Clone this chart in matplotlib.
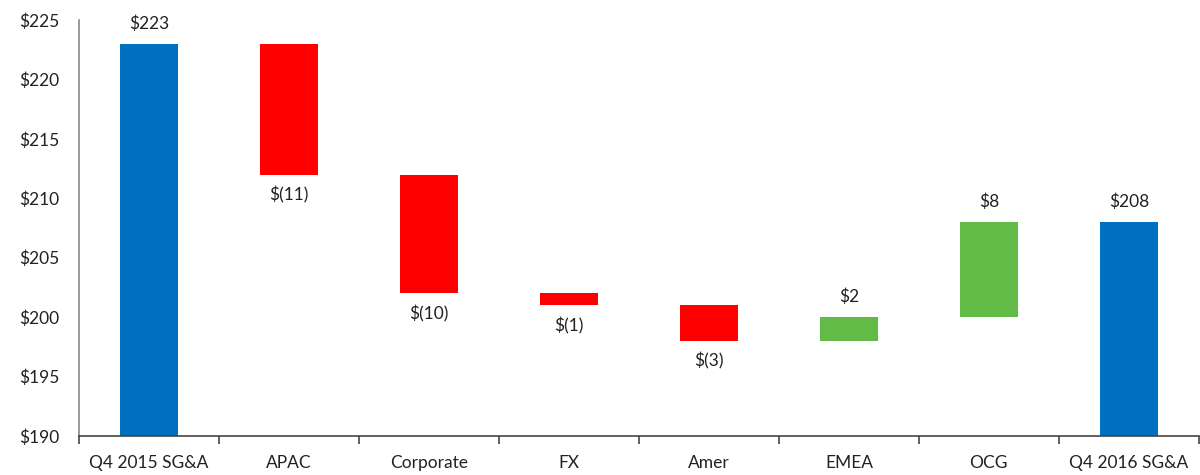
import matplotlib.pyplot as plt
import numpy as np

categories = ["Q4 2015 SG&A", "APAC", "Corporate", "FX", "Amer", "EMEA", "OCG", "Q4 2016 SG&A"]
changes = [223, -11, -10, -1, -3, 2, 8, 208]
is_total = [True, False, False, False, False, False, False, True]
labels = ["$223", "$(11)", "$(10)", "$(1)", "$(3)", "$2", "$8", "$208"]

plt.rcParams['font.family'] = ['Lato', 'DejaVu Sans']

base_val = 190
bottoms, heights, colors = [], [], []
running = 0
for v, tot in zip(changes, is_total):
    if tot:
        bottoms.append(base_val)
        heights.append(v - base_val)
        colors.append("#0070C0")
        running = v
    else:
        start = running
        running = running + v
        bottoms.append(min(start, running))
        heights.append(abs(v))
        colors.append("#FF0000" if v < 0 else "#62BB46")

fig = plt.figure(figsize=(12, 4.75), dpi=100)
ax = fig.add_axes([0.066, 0.082, 0.933, 0.876])
x = np.arange(len(categories))
ax.bar(x, heights, bottom=bottoms, color=colors, width=0.41)

for i, (b, h) in enumerate(zip(bottoms, heights)):
    if changes[i] < 0 and not is_total[i]:
        ax.text(x[i], b - 1.0, labels[i], ha="center", va="top", fontsize=12.5, color="#222222")
    else:
        ax.text(x[i], b + h + 1.0, labels[i], ha="center", va="bottom", fontsize=12.5,
                color="#222222", clip_on=False)

ax.set_xlim(-0.5, len(categories) - 0.5)
ax.set_ylim(190, 225)
ax.set_yticks(range(190, 226, 5))
ax.set_yticklabels([f"${t}" for t in range(190, 226, 5)], fontsize=12.5, color="#222222")
ax.set_xticks(x)
ax.set_xticklabels(categories, fontsize=12.5, color="#222222")
ax.set_xticks(np.arange(-0.5, len(categories)), minor=True)
ax.tick_params(axis="x", which="major", length=0, pad=14)
ax.tick_params(axis="x", which="minor", length=6, direction="out", color="#444444", width=1.2)
ax.tick_params(axis="y", length=0, pad=14)
ax.spines["top"].set_visible(False)
ax.spines["right"].set_visible(False)
ax.spines["left"].set_color("#888888")
ax.spines["left"].set_linewidth(1.2)
ax.spines["bottom"].set_color("#444444")
ax.spines["bottom"].set_linewidth(1.2)

fig.savefig("out.png", dpi=100)
